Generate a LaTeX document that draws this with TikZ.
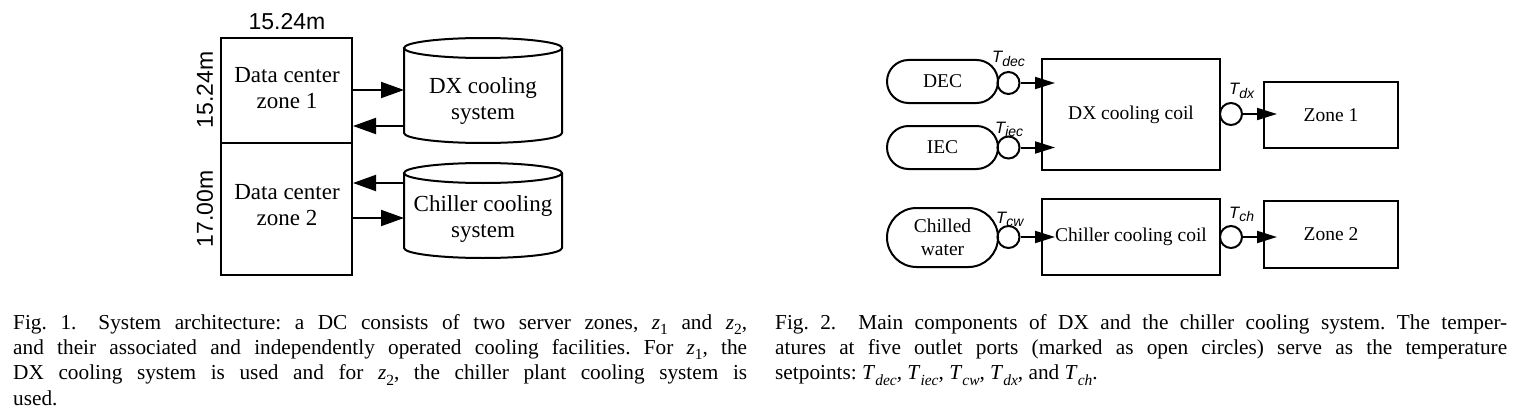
\documentclass[tikz,border=0pt]{standalone}
\usepackage{fontspec}
\setmainfont{Liberation Serif}
\setsansfont{Liberation Sans}
\usetikzlibrary{arrows.meta,shapes.misc,calc}
\newcommand\zsub[1]{\textit{z}\raisebox{-0.25em}{\fontsize{15.5}{16}\selectfont #1}}
\newcommand\Tcap[1]{\textit{T}\raisebox{-0.25em}{\fontsize{15.5}{16}\selectfont\itshape #1}}
\newcommand\Tsub[1]{T\raisebox{-3.5pt}{\fontsize{14}{15}\selectfont #1}}
\newcommand\capsetup{\tolerance=10000 \hbadness=10000 \frenchspacing}
\newcommand\cylshape[1]{%
  \draw[line width=2pt] ($(#1.north west)+(0,10)$) -- ($(#1.south west)+(0,-10)$)
    arc[start angle=180,end angle=360,x radius=79pt,y radius=10pt]
    -- ($(#1.north east)+(0,10)$);
  \draw[line width=2pt] ($(#1.north)+(0,10)$) ellipse[x radius=79pt,y radius=10pt];}
\begin{document}
\begin{tikzpicture}[x=1pt,y=-1pt,
  bx/.style={draw, line width=2pt, inner sep=0pt},
  ltext/.style={font=\fontsize{23}{26}\selectfont, align=center, inner sep=0pt},
  rtext/.style={font=\fontsize{19.5}{22.7}\selectfont, align=center},
  dimlab/.style={font=\sffamily\fontsize{23}{26}\selectfont, inner sep=0pt},
  tlab/.style={font=\sffamily\itshape\fontsize{16.5}{17}\selectfont, inner sep=0pt},
  port/.style={circle, draw, line width=2pt, minimum size=22pt, inner sep=0pt},
  terminal/.style={rounded rectangle, draw, line width=2pt, minimum width=111pt, inner sep=0pt},
  cylbody/.style={minimum width=158pt, inner sep=0pt, outer sep=0pt},
  larrow/.style={line width=2pt, -{Triangle[length=23pt,width=16pt]}},
  rarrow/.style={line width=2pt, -{Triangle[length=20pt,width=12pt]}},
  captext/.style={text width=734pt, align=justify, inner sep=0pt,
    font=\fontsize{21.3}{25.3}\selectfont}]
\useasboundingbox (0,0) rectangle (1526,420);

% ---------- Fig. 1 ----------
\node[dimlab] (wtop) at (287,22) {15.24m};
\node[dimlab, rotate=90] (h1) at (205,90) {15.24m};
\node[dimlab, rotate=90] (h2) at (205,209) {17.00m};

\node[bx, minimum width=131pt, minimum height=105pt] (z1) at (286.5,90.5) {};
\node[bx, minimum width=131pt, minimum height=132pt] (z2) at (286.5,209) {};
\node[ltext] (z1t) at (287,88.5) {Data center\\zone 1};
\node[ltext] (z2t) at (287,205) {Data center\\zone 2};

\node[cylbody, minimum height=105pt] (dx) at (483,90.5) {};
\node[cylbody, minimum height=95pt] (ch) at (483,210.5) {};
\cylshape{dx}
\cylshape{ch}
\node[ltext] (dxt) at (483,101.5) {DX cooling\\system};
\node[ltext] (cht) at (483,219.5) {Chiller cooling\\system};

\draw[larrow] (z1.east |- 0,90) -- (dx.west |- 0,90);
\draw[larrow] (dx.west |- 0,126) -- (z1.east |- 0,126);
\draw[larrow] (ch.west |- 0,183) -- (z2.east |- 0,183);
\draw[larrow] (z2.east |- 0,218) -- (ch.west |- 0,218);

% ---------- Fig. 2 ----------
\node[terminal, rtext, minimum height=43pt] (dec) at (942.5,81.5) {DEC};
\node[terminal, rtext, minimum height=43pt] (iec) at (942.5,147.5) {IEC};
\node[terminal, rtext, minimum height=59pt] (cw) at (942.5,237.5) {Chilled\\water};

\node[bx, rtext, minimum width=178pt, minimum height=111pt] (dxc) at (1131,114.5) {DX cooling coil};
\node[bx, rtext, minimum width=178pt, minimum height=76pt] (chc) at (1131,237) {Chiller cooling coil};
\node[bx, rtext, minimum width=134pt, minimum height=66.5pt] (zn1) at (1331,115) {Zone 1};
\node[bx, rtext, minimum width=134pt, minimum height=67pt] (zn2) at (1331,234.5) {Zone 2};

\node[port] (pdec) at (1008.5,83) {};
\node[port] (piec) at (1008.5,147.5) {};
\node[port] (pcw) at (1008.5,237) {};
\node[port] (pdx) at (1231,114) {};
\node[port] (pch) at (1231,237) {};

\node[tlab, anchor=base west] (tdec) at (992,63) {\Tsub{dec}};
\node[tlab, anchor=base west] (tiec) at (995,133) {\Tsub{iec}};
\node[tlab, anchor=base west] (tcw) at (996,223) {\Tsub{cw}};
\node[tlab, anchor=base west] (tdx) at (1229,95) {\Tsub{dx}};
\node[tlab, anchor=base west] (tch) at (1229,218) {\Tsub{ch}};

\draw[rarrow] (pdec.east) -- ($(dxc.west |- pdec.east)+(14,0)$);
\draw[rarrow] (piec.east) -- ($(dxc.west |- piec.east)+(14,0)$);
\draw[rarrow] (pcw.east) -- ($(chc.west |- pcw.east)+(14,0)$);
\draw[rarrow] (pdx.east) -- ($(zn1.west |- pdx.east)+(14,0)$);
\draw[rarrow] (pch.east) -- ($(zn2.west |- pch.east)+(14,0)$);

% ---------- captions ----------
\node[captext, anchor=north west] (cap1) at (13,314) {\capsetup Fig.~1.\hspace{22pt}System architecture: a DC consists of two server zones, \zsub{1} and \zsub{2},\linebreak and their associated and independently operated cooling facilities. For \zsub{1}, the\linebreak DX cooling system is used and for \zsub{2}, the chiller plant cooling system is\linebreak used.};
\node[captext, text width=732pt, anchor=north west] (cap2) at (775,314) {\capsetup Fig.~2.\hspace{22pt}Main components of DX and the chiller cooling system. The temper-\linebreak atures at five outlet ports (marked as open circles) serve as the temperature\linebreak setpoints: \Tcap{dec}, \Tcap{iec}, \Tcap{cw}, \Tcap{dx}, and \Tcap{ch}.};
\end{tikzpicture}
\end{document}
